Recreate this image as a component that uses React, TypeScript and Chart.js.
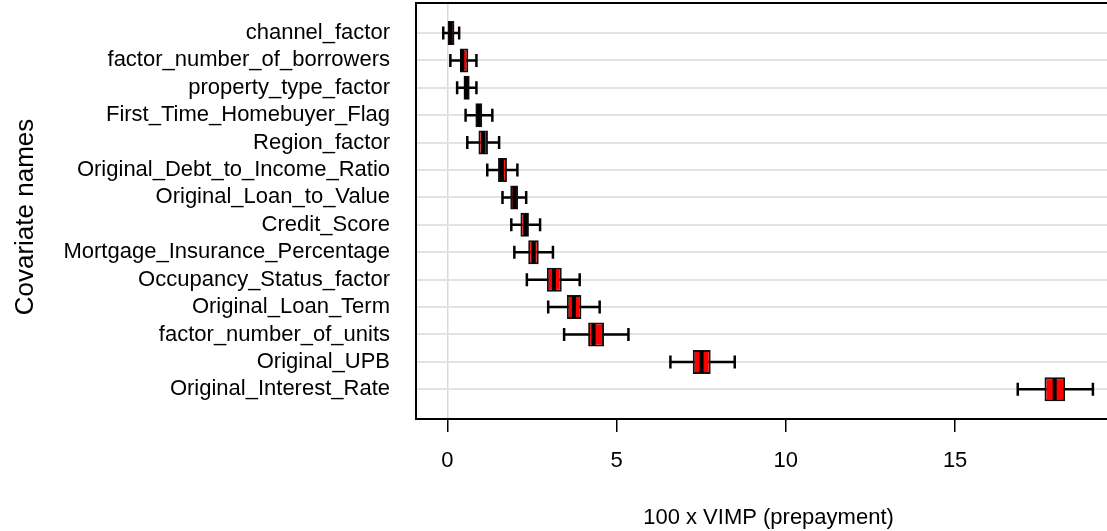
import React, { useEffect, useRef } from "react";
import { Chart, registerables } from "chart.js";

Chart.register(...registerables);

const covariates = [
  "channel_factor",
  "factor_number_of_borrowers",
  "property_type_factor",
  "First_Time_Homebuyer_Flag",
  "Region_factor",
  "Original_Debt_to_Income_Ratio",
  "Original_Loan_to_Value",
  "Credit_Score",
  "Mortgage_Insurance_Percentage",
  "Occupancy_Status_factor",
  "Original_Loan_Term",
  "factor_number_of_units",
  "Original_UPB",
  "Original_Interest_Rate",
];

const whiskerLow = [-0.12, 0.09, 0.29, 0.54, 0.59, 1.18, 1.63, 1.89, 1.98, 2.35, 2.98, 3.45, 6.59, 16.85];
const q1 = [0.01, 0.37, 0.48, 0.83, 0.92, 1.5, 1.86, 2.16, 2.39, 2.94, 3.53, 4.16, 7.25, 17.64];
const median = [0.1, 0.44, 0.56, 0.93, 1.06, 1.61, 1.98, 2.31, 2.55, 3.15, 3.74, 4.32, 7.51, 17.94];
const q3 = [0.21, 0.62, 0.66, 1.03, 1.2, 1.76, 2.09, 2.41, 2.7, 3.38, 3.96, 4.63, 7.78, 18.25];
const whiskerHigh = [0.35, 0.86, 0.86, 1.33, 1.53, 2.07, 2.33, 2.74, 3.12, 3.91, 4.5, 5.35, 8.49, 19.07];

const xTicks = [0, 5, 10, 15];
const xTitle = "100 x VIMP (prepayment)";
const yTitle = "Covariate names";

const FONT = "'Liberation Sans', Arial, sans-serif";

const boxParts = {
  id: "boxParts",
  beforeDatasetsDraw(chart: any) {
    const { ctx, scales } = chart;
    const x = scales.x;
    const y = scales.y;
    ctx.save();
    ctx.strokeStyle = "#000";
    ctx.lineWidth = 2.5;
    covariates.forEach((_, i) => {
      const py = y.getPixelForValue(i + 1);
      const x0 = x.getPixelForValue(whiskerLow[i]);
      const x1 = x.getPixelForValue(whiskerHigh[i]);
      ctx.beginPath();
      ctx.moveTo(x0, py);
      ctx.lineTo(x1, py);
      ctx.moveTo(x0, py - 6.5);
      ctx.lineTo(x0, py + 6.5);
      ctx.moveTo(x1, py - 6.5);
      ctx.lineTo(x1, py + 6.5);
      ctx.stroke();
    });
    ctx.restore();
  },
  afterDatasetsDraw(chart: any) {
    const { ctx, scales } = chart;
    const x = scales.x;
    const y = scales.y;
    ctx.save();
    ctx.strokeStyle = "#000";
    ctx.lineWidth = 4;
    covariates.forEach((_, i) => {
      const py = y.getPixelForValue(i + 1);
      const pm = x.getPixelForValue(median[i]);
      ctx.beginPath();
      ctx.moveTo(pm, py - 11);
      ctx.lineTo(pm, py + 11);
      ctx.stroke();
    });
    ctx.restore();
  },
  afterDraw(chart: any) {
    const { ctx, chartArea } = chart;
    ctx.save();
    ctx.strokeStyle = "#000";
    ctx.lineWidth = 2;
    ctx.strokeRect(
      chartArea.left,
      chartArea.top,
      chartArea.right - chartArea.left,
      chartArea.bottom - chartArea.top
    );
    ctx.fillStyle = "#000";
    ctx.font = `22px ${FONT}`;
    ctx.textAlign = "center";
    ctx.textBaseline = "alphabetic";
    ctx.fillText(xTitle, (chartArea.left + chartArea.right) / 2, 524);
    ctx.translate(33, 217);
    ctx.rotate(-Math.PI / 2);
    ctx.font = `26px ${FONT}`;
    ctx.fillText(yTitle, 0, 0);
    ctx.restore();
  },
};

export default function App() {
  const ref = useRef<HTMLCanvasElement | null>(null);

  useEffect(() => {
    if (!ref.current) return;
    const chart = new Chart(ref.current, {
      type: "bar",
      data: {
        datasets: [
          {
            data: covariates.map((_, i) => ({ x: [q1[i], q3[i]], y: i + 1 })) as any,
            backgroundColor: "#ff0000",
            borderColor: "#111",
            borderWidth: 2,
            borderSkipped: false,
            barThickness: 24,
            inflateAmount: 0,
          },
        ],
      },
      options: {
        indexAxis: "y",
        animation: false,
        responsive: true,
        maintainAspectRatio: false,
        layout: { padding: { top: 3, left: 0, right: 0, bottom: 0 } },
        plugins: {
          legend: { display: false },
          tooltip: { enabled: false },
        },
        scales: {
          x: {
            type: "linear",
            min: -0.925,
            max: 19.9,
            offset: false,
            afterBuildTicks: (s: any) => {
              s.ticks = xTicks.map((v) => ({ value: v }));
            },
            afterFit: (s: any) => {
              s.height = 112;
              s.paddingLeft = 0;
              s.paddingRight = 0;
            },
            border: { display: false },
            grid: {
              offset: false,
              color: (c: any) => (c.tick && c.tick.value === 0 ? "#d9d9d9" : "rgba(0,0,0,0)"),
              lineWidth: 1.5,
              tickColor: "#000",
              tickLength: 13,
              tickWidth: 1.5,
              drawTicks: true,
            },
            ticks: {
              color: "#000",
              padding: 16,
              maxRotation: 0,
              autoSkip: false,
              font: { family: FONT, size: 22 },
            },
          },
          y: {
            type: "linear",
            reverse: true,
            min: -0.094,
            max: 15.084,
            offset: false,
            afterBuildTicks: (s: any) => {
              s.ticks = covariates.map((_, i) => ({ value: i + 1 }));
            },
            afterFit: (s: any) => {
              s.width = 416;
              s.paddingTop = 0;
              s.paddingBottom = 0;
            },
            border: { display: false },
            grid: {
              offset: false,
              color: "#e3e3e3",
              lineWidth: 2,
              drawTicks: false,
            },
            ticks: {
              color: "#000",
              padding: 26,
              autoSkip: false,
              font: { family: FONT, size: 22 },
              callback: (v: any) => covariates[Number(v) - 1] ?? "",
            },
          },
        },
      },
      plugins: [boxParts],
    });
    return () => chart.destroy();
  }, []);

  return (
    <div
      style={{
        position: "absolute",
        left: 0,
        top: 0,
        width: 1107,
        height: 531,
        overflow: "hidden",
        background: "#fff",
      }}
    >
      <div style={{ position: "relative", width: 1121, height: 531 }}>
        <canvas ref={ref} />
      </div>
    </div>
  );
}
